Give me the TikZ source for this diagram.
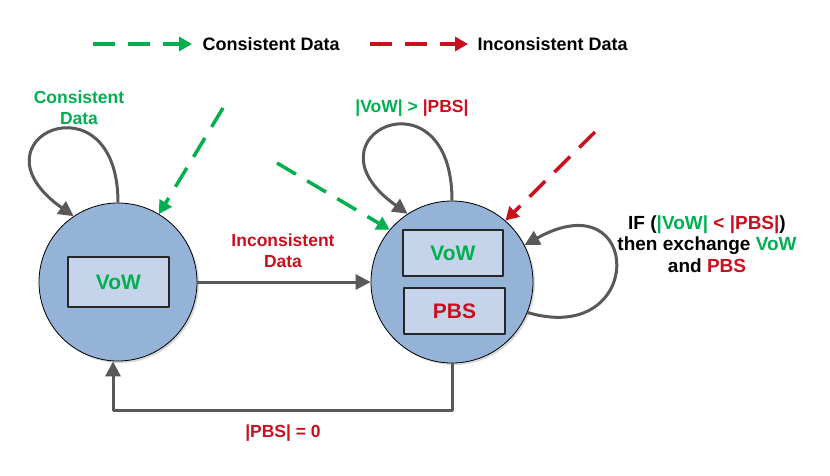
\documentclass[tikz,border=0pt]{standalone}
\usepackage{fontspec}
\setmainfont{Liberation Sans}
\usetikzlibrary{arrows.meta,shadows}

\definecolor{vowgreen}{RGB}{0,176,80}
\definecolor{pbsred}{RGB}{200,16,30}
\definecolor{linegray}{RGB}{89,89,89}
\definecolor{statefill}{RGB}{149,179,215}
\definecolor{bufferfill}{RGB}{197,212,234}

\begin{document}
\begin{tikzpicture}[x=1pt, y=-1pt, line join=round,
	font=\fontsize{17.5}{21}\selectfont\bfseries,
	state/.style={circle, draw=black, line width=0.8pt, fill=statefill, inner sep=0pt,
		drop shadow={shadow xshift=2pt, shadow yshift=-2pt, opacity=0.3}},
	buffer/.style={draw=black!85, line width=1.5pt, fill=bufferfill, minimum width=100pt,
		minimum height=46pt, inner sep=0pt, font=\fontsize{21}{24}\selectfont\bfseries},
	flow/.style={>={Triangle[length=15pt, width=15pt]}, ->, linegray, line width=3pt},
	feed/.style={>={Triangle[length=13pt, width=14pt]}, ->, line width=3.5pt,
		dash pattern=on 22pt off 13pt}]
	\useasboundingbox (0,0) rectangle (830,475);

	% LEGEND
	\coordinate (gs) at (93,44);
	\coordinate (ge) at (192,44);
	\draw[feed, vowgreen] (gs) -- (ge);
	\node[anchor=west, font=\fontsize{18}{21}\selectfont\bfseries] (gkey) at (199,44) {Consistent Data};
	\coordinate (rs) at (370,44);
	\coordinate (re) at (468,44);
	\draw[feed, pbsred] (rs) -- (re);
	\node[anchor=west, font=\fontsize{18}{21}\selectfont\bfseries] (rkey) at (474,44) {Inconsistent Data};

	% STATE 1: only VoW
	\node[state, minimum size=158pt] (lstate) at (118,282) {};
	\node[buffer, minimum width=101pt, minimum height=50pt, text=vowgreen] (lvow) at (118.5,282) {VoW};

	% STATE 2: VoW and PBS
	\node[state, minimum size=162pt] (rstate) at (452,282) {};
	\node[buffer, text=vowgreen] (rvow) at (453,253) {VoW};
	\node[buffer, minimum width=101pt, text=pbsred] (rpbs) at (454.5,311) {PBS};

	% TRANSITIONS
	\draw[flow] (lstate.north) .. controls +(0,-131) and +(-110,-78) .. (lstate.124);
	\node[vowgreen, align=center] (selflbl) at (79,108) {Consistent\\Data};

	\draw[flow] (lstate.east) -- (rstate.west);
	\node[pbsred, align=center] (movelbl) at (283,251) {Inconsistent\\Data};

	\draw[flow] (rstate.south) -- ++(0,47) -| ([xshift=-5pt]lstate.south);
	\node[pbsred] (emptylbl) at (283,433) {|PBS| = 0};

	\draw[flow] (rstate.north) .. controls +(0,-135) and +(-110,-78) .. (rstate.123);
	\node (keeplbl) at (412,108) {\textcolor{vowgreen}{|VoW| >} \textcolor{pbsred}{|PBS|}};

	\draw[flow] (rstate.-22) .. controls +(119,35) and +(119,-66) .. (rstate.27);
	\node[align=center, font=\fontsize{19}{21.5}\selectfont\bfseries] (swaplbl) at (707,244)
		{IF (\textcolor{vowgreen}{|VoW|} \textcolor{pbsred}{< |PBS|})\\
		then exchange \textcolor{vowgreen}{VoW}\\
		and \textcolor{pbsred}{PBS}};

	% INCOMING DATA
	\coordinate (g1) at (223,108);
	\coordinate (g2) at (277,163);
	\coordinate (r1) at (595,132);
	\draw[feed, vowgreen] (g1) -- (lstate);
	\draw[feed, vowgreen] (g2) -- (rstate.140);
	\draw[feed, pbsred] (r1) -- (rstate.49);
\end{tikzpicture}
\end{document}
